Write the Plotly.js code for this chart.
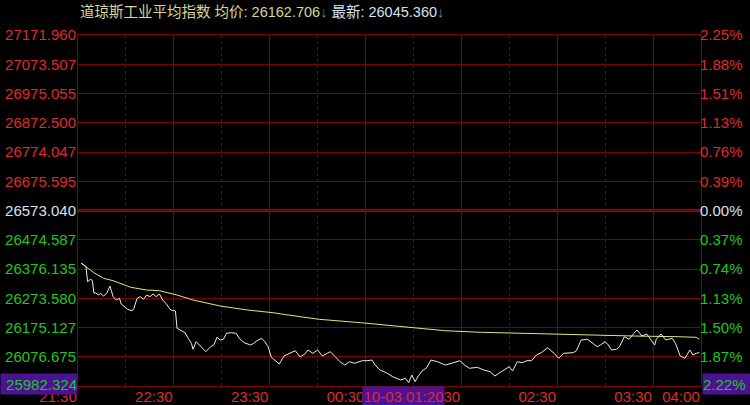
<!DOCTYPE html>
<html><head><meta charset="utf-8">
<script src="https://cdn.plot.ly/plotly-3.0.1.min.js"></script>
<style>html,body{margin:0;padding:0;background:#000;} #chart{width:750px;height:405px;}</style>
</head><body><div id="chart"></div>
<script>
const preClose = 26573.04;
const topValue = 27171.96;

const priceTimes = ['21:32','21:33','21:35','21:36','21:38','21:39','21:40','21:41','21:43','21:44','21:46','21:48','21:50','21:51','21:52','21:54','21:56','21:57','21:59',
'22:01','22:04','22:05','22:07','22:09','22:11','22:13','22:15','22:17','22:19','22:21','22:23','22:25','22:28','22:31','22:32','22:34','22:37','22:39','22:41','22:42','22:44','22:46','22:50','22:53','22:55','22:57','22:59',
'23:01','23:03','23:06','23:09','23:11','23:14','23:18','23:20','23:22','23:25','23:27','23:29','23:31','23:33','23:36','23:39','23:43','23:46','23:49','23:52','23:54','23:57',
'00:00','00:03','00:06','00:08','00:11','00:14','00:17','00:20','00:23','00:28','00:31','00:34','00:36','00:39','00:43','00:47','00:52','00:55','00:57','00:59',
'01:01','01:03','01:06','01:08','01:11','01:15','01:20','01:22','01:25','01:29','01:32','01:35','01:40','01:44','01:48','01:51','01:54','01:58',
'02:00','02:02','02:05','02:08','02:11','02:14','02:17','02:20','02:24','02:28','02:31','02:34','02:37','02:40','02:42','02:45','02:49','02:52','02:55','02:57',
'03:00','03:02','03:04','03:07','03:09','03:12','03:15','03:18','03:20','03:23','03:26','03:31','03:32','03:35','03:38','03:42','03:44','03:47','03:50','03:53','03:55','03:57','03:59'];
const priceValues = [26392.9,26390.5,26381.2,26330.1,26339.3,26332.4,26290.5,26292.5,26284.7,26290.5,26281.3,26290.5,26315.4,26295.9,26278.9,26267.6,26273.4,26254.0,26244.7,
26235.9,26231.1,26239.3,26273.4,26278.9,26270.0,26284.7,26278.9,26288.1,26278.9,26288.1,26267.6,26256.3,26233.5,26230.1,26171.0,26165.2,26156.0,26136.9,26119.8,26099.4,26125.3,26114.0,26091.2,26108.2,26114.0,26140.3,26131.1,
26133.5,26154.0,26156.0,26154.0,26136.9,26121.9,26114.0,26119.8,26128.7,26136.9,26125.3,26108.2,26072.1,26062.8,26049.2,26076.5,26085.7,26094.6,26073.1,26083.3,26097.0,26085.7,
26097.0,26076.5,26085.7,26091.2,26074.1,26057.0,26045.8,26057.0,26051.6,26060.5,26060.5,26062.8,26045.8,26028.7,26019.5,26005.9,25994.6,26000.4,25985.4,26011.7,
25988.8,26008.2,26028.7,26034.5,26062.8,26057.0,26045.36,26048.2,26053.6,26060.5,26045.8,26034.5,26037.9,26028.7,26022.9,26008.2,26019.5,26034.5,
26040.0,26025.3,26057.0,26053.6,26060.5,26060.5,26079.9,26087.8,26104.8,26085.7,26068.6,26085.7,26085.7,26087.8,26094.6,26131.1,26133.5,26121.9,26108.2,26114.0,
26125.3,26114.0,26097.0,26099.4,26108.2,26142.4,26133.5,26154.0,26165.2,26144.7,26151.6,26114.0,26133.5,26151.6,26131.1,26136.9,26119.8,26076.5,26068.6,26097.0,26079.9,26085.7,26087.8];

const avgTimes = ['21:32','21:35','21:40','21:46','21:52','22:03','22:13','22:21','22:32','22:42','22:59','23:16','23:32','23:49','00:01','00:27','00:52','01:17','01:20','01:42','02:07','02:34','03:18','03:45','03:57','03:59'];
const avgValues = [26392.9,26381.0,26360.8,26341.7,26333.5,26310.9,26301.7,26299.3,26284.7,26267.6,26247.1,26233.5,26224.3,26210.6,26201.7,26190.1,26176.5,26165.2,26162.706,26157.4,26154.0,26148.2,26144.7,26142.4,26140.3,26133.5];

const leftTickLabels = ['27171.960','27073.507','26975.055','26872.500','26774.047','26675.595','26573.040','26474.587','26376.135','26273.580','26175.127','26076.675',''];
const rightTickLabels = ['2.25%','1.88%','1.51%','1.13%','0.76%','0.39%','0.00%','0.37%','0.74%','1.13%','1.50%','1.87%',''];
const xTickLabels = ['21:30','22:30','23:30','00:30','01:30','02:30','03:30','04:00'];
const xMinorLabels = ['22:00','23:00','00:00','01:00','02:00','03:00'];

const titleName = '道琼斯工业平均指数';
const avgPriceText = '26162.706';
const lastPriceText = '26045.360';
const cursorDate = '10-03';
const cursorTime = '01:20';
const cursorValue = 25982.324;
const cursorValueText = '25982.324';
const cursorPctText = '2.22%';

const RED = '#e02a2a', GREEN = '#1ec81e', WHITE = '#d6e2f0', GRID = '#800000', PURPLE = '#4c1294';
const FONT = 'Liberation Sans, Arial, Noto Sans CJK SC, sans-serif';

function toMin(t){const p=t.split(':').map(Number);let v=p[0]*60+p[1]-(21*60+30);if(v<0)v+=1440;return v;}
const bottomValue = 2*preClose - topValue;
const step = (topValue - preClose)/6;
const yTickVals = leftTickLabels.map((_,i)=>preClose + (6-i)*step);
function colorLabel(txt,i){const c = i<6?RED:(i===6?WHITE:GREEN);return '<span style="color:'+c+'">'+txt+'</span>';}

const traces = [
  {x: priceTimes.map(toMin), y: priceValues, type:'scatter', mode:'lines', line:{color:'#ececec', width:1}, hoverinfo:'skip', showlegend:false},
  {x: avgTimes.map(toMin), y: avgValues, type:'scatter', mode:'lines', line:{color:'#e4e47c', width:1}, hoverinfo:'skip', showlegend:false},
  {x:[0], y:[preClose], yaxis:'y2', type:'scatter', mode:'lines', line:{color:'rgba(0,0,0,0)'}, hoverinfo:'skip', showlegend:false}
];

const layout = {
  width:750, height:405,
  paper_bgcolor:'#000', plot_bgcolor:'#000',
  margin:{l:78, r:49, t:35, b:19},
  font:{family:FONT, size:15, color:RED},
  showlegend:false,
  xaxis:{range:[0,390], tickmode:'array', tickvals:xTickLabels.map(toMin), ticktext:xTickLabels,
    showgrid:true, gridcolor:GRID, gridwidth:1, zeroline:false, showline:true, linecolor:GRID, linewidth:1, mirror:true,
    ticks:'', tickfont:{color:RED, size:15, family:FONT}, ticklabelshift:-20, ticklabelstandoff:-3, fixedrange:true,
    minor:{tickmode:'array', tickvals:xMinorLabels.map(toMin), showgrid:true, gridcolor:GRID, gridwidth:1, griddash:'dot', ticks:''}},
  yaxis:{range:[bottomValue, topValue], tickmode:'array', tickvals:yTickVals, ticktext:leftTickLabels.map(colorLabel),
    showgrid:true, gridcolor:GRID, gridwidth:1, zeroline:false, showline:true, linecolor:GRID, linewidth:1, mirror:true,
    ticks:'', tickfont:{size:15, family:FONT}, ticklabelstandoff:-2, fixedrange:true},
  yaxis2:{range:[bottomValue, topValue], overlaying:'y', side:'right', tickmode:'array', tickvals:yTickVals, ticktext:rightTickLabels.map(colorLabel),
    showgrid:false, zeroline:false, showline:false, ticks:'', tickfont:{size:15, family:FONT}, ticklabelstandoff:-2, fixedrange:true},
  shapes:[{type:'line', xref:'paper', x0:0, x1:1, yref:'y', y0:preClose, y1:preClose, line:{color:'#9a0000', width:3}, layer:'below'}],
  annotations:[
    {xref:'paper', yref:'paper', x:0, y:1, xanchor:'left', yanchor:'middle', xshift:0, yshift:23, showarrow:false,
     font:{family:FONT, size:14.5},
     text:'<span style="color:#d6d69a">'+titleName+' 均价: '+avgPriceText+'</span><span style="color:#2aa6d0">↓</span><span style="color:#d2e0f0"> 最新: '+lastPriceText+'</span><span style="color:#2aa6d0">↓</span>'},
    {xref:'x', yref:'paper', x:toMin(cursorTime), y:0, xanchor:'right', yanchor:'top', showarrow:false,
     width:81, height:19, bgcolor:PURPLE, borderpad:0, align:'center', font:{family:FONT, size:15, color:RED}, text:cursorDate+' '+cursorTime},
    {xref:'paper', yref:'y', x:0, y:cursorValue, xanchor:'right', yanchor:'middle', showarrow:false,
     width:76, height:20, bgcolor:PURPLE, borderpad:0, align:'right', font:{family:FONT, size:15, color:GREEN}, text:cursorValueText},
    {xref:'paper', yref:'y', x:1, y:cursorValue, xanchor:'left', yanchor:'middle', xshift:1, showarrow:false,
     width:47, height:20, bgcolor:PURPLE, borderpad:0, align:'left', font:{family:FONT, size:15, color:GREEN}, text:cursorPctText}
  ]
};
Plotly.newPlot('chart', traces, layout, {displayModeBar:false, staticPlot:true});
</script></body></html>
